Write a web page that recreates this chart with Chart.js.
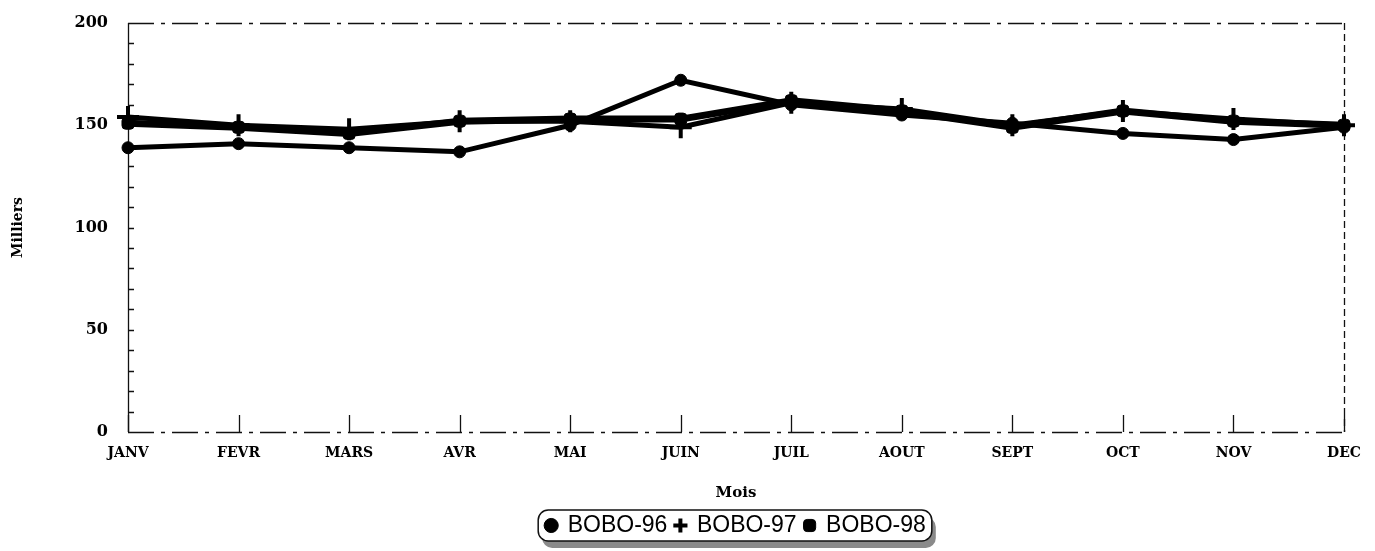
<!DOCTYPE html>
<html>
<head>
<meta charset="utf-8">
<script src="https://cdn.jsdelivr.net/npm/chart.js@4.4.1/dist/chart.umd.min.js"></script>
<style>
  html, body { margin:0; padding:0; background:#fff; }
  #wrap { width:1375px; height:551px; }
</style>
</head>
<body>
<div id="wrap"><canvas id="c" width="1375" height="551"></canvas></div>
<script>
'use strict';
const months  = ['JANV','FEVR','MARS','AVR','MAI','JUIN','JUIL','AOUT','SEPT','OCT','NOV','DEC'];
const bobo96  = [139, 141, 139, 137, 150, 172, 160, 155, 151, 146, 143, 149];
const bobo97  = [154, 150, 148, 152, 152, 149, 161, 158, 150, 157, 153, 150];
const bobo98  = [151, 149, 146, 152, 153, 153, 162, 157, 149, 157, 152, 150];
const yTicks  = [0, 50, 100, 150, 200];

const SERIF = '"DejaVu Serif", "Liberation Serif", serif';
const SANS  = '"Liberation Sans", Arial, sans-serif';

// axis frame, inner tick marks, legend box
const framePlugin = {
  id: 'frame',
  afterLayout(chart) {
    // centre the legend under the plot area, not under the whole canvas
    const lg = chart.legend, a = chart.chartArea;
    if (!lg) return;
    const shift = (a.left + a.right) / 2 - (lg.left + lg.right) / 2;
    lg.left += shift; lg.right += shift;
    lg.legendHitBoxes.forEach(b => { b.left += shift; });
  },
  beforeDatasetsDraw(chart) {
    const { ctx, chartArea: a, scales: { x, y } } = chart;
    ctx.save();
    ctx.strokeStyle = '#111';
    ctx.lineWidth = 1.3;
    // top + bottom broken lines
    ctx.setLineDash([26, 7, 4, 7]);
    ctx.beginPath();
    ctx.moveTo(a.left, a.top + 0.5); ctx.lineTo(a.right, a.top + 0.5);
    ctx.moveTo(a.left, a.bottom + 0.5); ctx.lineTo(a.right, a.bottom + 0.5);
    ctx.stroke();
    // right edge
    ctx.setLineDash([7, 4]);
    ctx.beginPath();
    ctx.moveTo(a.right + 0.5, a.top); ctx.lineTo(a.right + 0.5, a.bottom);
    ctx.stroke();
    // left edge
    ctx.setLineDash([]);
    ctx.beginPath();
    ctx.moveTo(a.left + 0.5, a.top); ctx.lineTo(a.left + 0.5, a.bottom);
    ctx.stroke();
    // category ticks pointing up
    ctx.beginPath();
    months.forEach((m, i) => {
      const px = Math.round(x.getPixelForValue(i)) + 0.5;
      ctx.moveTo(px, a.bottom); ctx.lineTo(px, a.bottom - 17);
    });
    // minor y ticks pointing in
    for (let v = 10; v < 200; v += 10) {
      const py = Math.round(y.getPixelForValue(v)) + 0.5;
      ctx.moveTo(a.left, py); ctx.lineTo(a.left + 6, py);
    }
    ctx.stroke();
    ctx.restore();
  },
  afterDraw(chart) {
    const lg = chart.legend;
    if (!lg || !lg.legendHitBoxes.length) return;
    const hb = lg.legendHitBoxes;
    const l = Math.min(...hb.map(b => b.left)) - 8;
    const r = Math.max(...hb.map(b => b.left + b.width)) + 6;
    const t = hb[0].top - 4, h = hb[0].height + 8;
    const { ctx } = chart;
    ctx.save();
    // shadow
    ctx.fillStyle = '#8a8a8a';
    ctx.beginPath();
    ctx.roundRect(l + 4, t + 7, r - l, h, 10);
    ctx.fill();
    ctx.fillStyle = '#fff';
    ctx.strokeStyle = '#111';
    ctx.lineWidth = 1.5;
    ctx.beginPath();
    ctx.roundRect(l, t, r - l, h, 10);
    ctx.fill();
    ctx.stroke();
    ctx.restore();
    // redraw legend content over the box
    lg.draw();
  }
};

new Chart(document.getElementById('c'), {
  type: 'line',
  data: {
    labels: months,
    datasets: [
      { label:'BOBO-96', data: bobo96, borderColor:'#000', backgroundColor:'#000',
        borderWidth:5, pointStyle:'circle', pointRadius:6, pointBorderWidth:1, tension:0 },
      { label:'BOBO-97', data: bobo97, borderColor:'#000', backgroundColor:'#000',
        borderWidth:5, pointStyle:'cross', pointRadius:11, pointBorderWidth:4, tension:0 },
      { label:'BOBO-98', data: bobo98, borderColor:'#000', backgroundColor:'#000',
        borderWidth:7, pointStyle:'rectRounded', pointRadius:7, pointBorderWidth:1, tension:0 },
    ]
  },
  options: {
    responsive: false,
    animation: false,
    layout: { padding: { left:0, right:31, top:23, bottom:4 } },
    plugins: {
      tooltip: { enabled:false },
      legend: {
        position: 'bottom',
        labels: {
          color:'#000', usePointStyle:true, boxWidth:10, boxHeight:10, padding:8,
          font: { family: SANS, size: 23 }
        }
      }
    },
    scales: {
      x: {
        offset: false,
        grid: { display:false, drawTicks:false },
        border: { display:false },
        ticks: { color:'#000', padding:13, maxRotation:0, autoSkip:false,
          font: { family: SERIF, size: 14, weight:'bold' } },
        title: { display:true, text:'Mois', color:'#000', padding:{ top:8, bottom:4 },
          font: { family: SERIF, size: 15, weight:'bold' } },
        afterFit: s => { s.height = 74; s.paddingLeft = 0; s.paddingRight = 0; }
      },
      y: {
        min: 0, max: 200,
        afterBuildTicks: s => { s.ticks = yTicks.map(v => ({ value: v })); },
        grid: { display:false, drawTicks:false },
        border: { display:false },
        ticks: { color:'#000', padding:20, font: { family: SERIF, size: 16, weight:'bold' } },
        title: { display:true, text:'Milliers', color:'#000', padding:{ top:10, bottom:0 },
          font: { family: SERIF, size: 14, weight:'bold' } },
        afterFit: s => { s.width = 128; s.paddingTop = 0; s.paddingBottom = 0; }
      }
    }
  },
  plugins: [framePlugin]
});
</script>
</body>
</html>
